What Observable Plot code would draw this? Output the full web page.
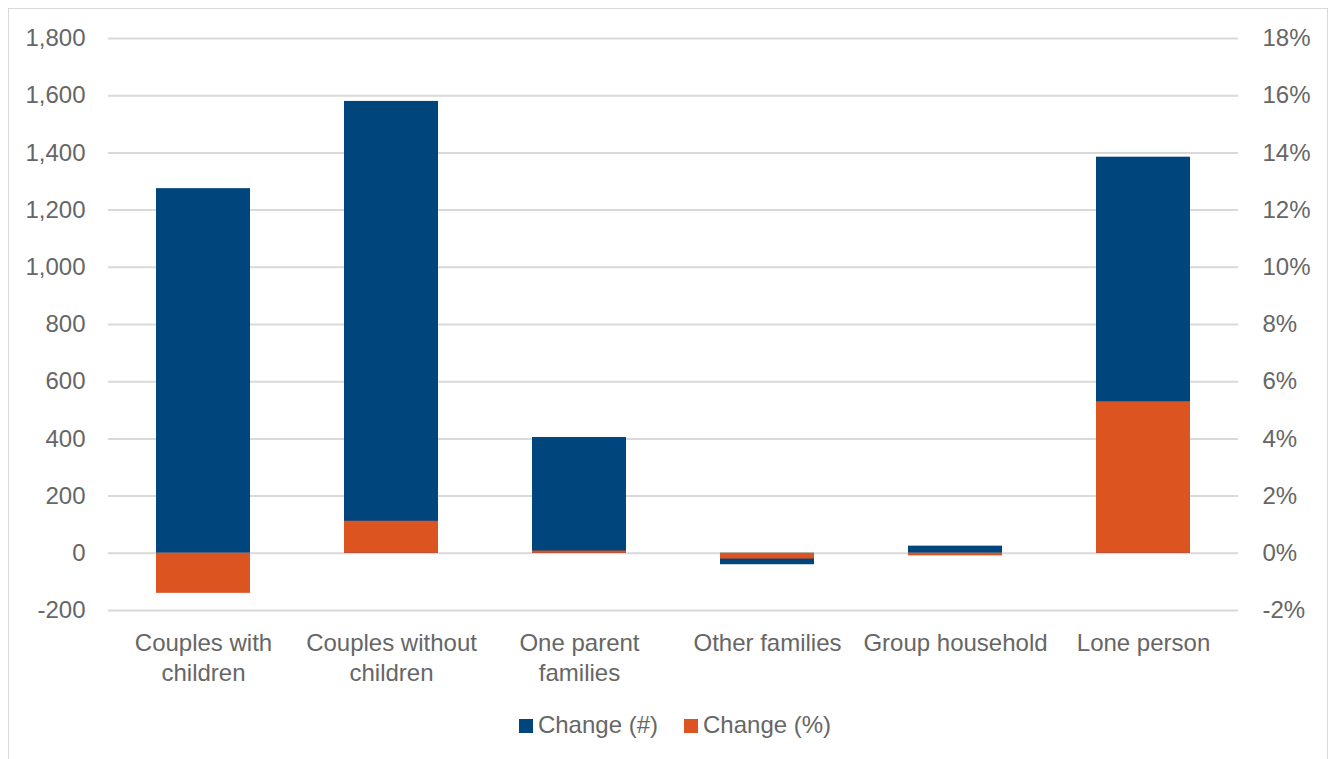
<!DOCTYPE html>
<html>
<head>
<meta charset="utf-8">
<script src="https://cdn.jsdelivr.net/npm/d3@7"></script>
<script src="https://cdn.jsdelivr.net/npm/@observablehq/plot@0.6"></script>
<style>
  html, body { margin: 0; padding: 0; background: #fff; }
  #frame {
    position: absolute; left: 8px; top: 8px; width: 1320px; height: 760px;
    border: 1px solid #d9d9d9; box-sizing: border-box; overflow: hidden;
    font-family: "Liberation Sans", Arial, sans-serif;
  }
  #legend {
    display: flex; justify-content: center; align-items: center; gap: 26px;
    font-size: 24px; color: #666; margin-left: 14px; height: 32px;
  }
  .sw { display: inline-block; width: 14px; height: 14px; margin-right: 5px; vertical-align: middle; position: relative; top: -1px; }
</style>
</head>
<body>
<div id="frame"></div>
<script>
const categories = ["Couples with\nchildren", "Couples without\nchildren", "One parent\nfamilies", "Other families", "Group household", "Lone person"];
const changeCount = [1275, 1580, 405, -40, 25, 1385];
const changePct = [-1.4, 1.12, 0.08, -0.2, -0.09, 5.3];
const leftTicks = [-200, 0, 200, 400, 600, 800, 1000, 1200, 1400, 1600, 1800];
const rightTickLabels = ["-2%", "0%", "2%", "4%", "6%", "8%", "10%", "12%", "14%", "16%", "18%"];
const seriesNames = ["Change (#)", "Change (%)"];
const colors = ["#00457C", "#DC5420"];

const countData = categories.map((c, i) => ({cat: c, v: changeCount[i]}));
const pctData = categories.map((c, i) => ({cat: c, v: changePct[i] * 100}));
const fmt = d3.format(",");

const chart = Plot.plot({
  width: 1318,
  height: 700,
  marginLeft: 99,
  marginRight: 89,
  marginTop: 29,
  marginBottom: 99,
  style: {fontFamily: "'Liberation Sans', Arial, sans-serif", fontSize: "24px", color: "#666", background: "#fff"},
  x: {domain: categories, paddingInner: 0.5, paddingOuter: 0.25, label: null},
  y: {domain: [-200, 1800], label: null},
  marks: [
    Plot.gridY(leftTicks, {stroke: "#d9d9d9", strokeOpacity: 1, strokeWidth: 2}),
    Plot.barY(countData, {x: "cat", y: "v", fill: colors[0]}),
    Plot.barY(pctData, {x: "cat", y: "v", fill: colors[1]}),
    Plot.axisY(leftTicks, {anchor: "left", tickSize: 0, tickPadding: 23, tickFormat: d => fmt(d).replace("\u2212", "-"), label: null, fill: "#666"}),
    Plot.axisY(leftTicks, {anchor: "right", tickSize: 0, tickPadding: 24, tickFormat: (d, i) => rightTickLabels[i], label: null, fill: "#666"}),
    Plot.axisX({tickSize: 0, tickPadding: 19, label: null, lineHeight: 1.25, fill: "#666"})
  ]
});
const frame = document.getElementById("frame");
frame.appendChild(chart);
const legend = document.createElement("div");
legend.id = "legend";
legend.innerHTML = seriesNames.map((n, i) => `<span><span class="sw" style="background:${colors[i]}"></span>${n}</span>`).join("");
frame.appendChild(legend);
</script>
</body>
</html>
